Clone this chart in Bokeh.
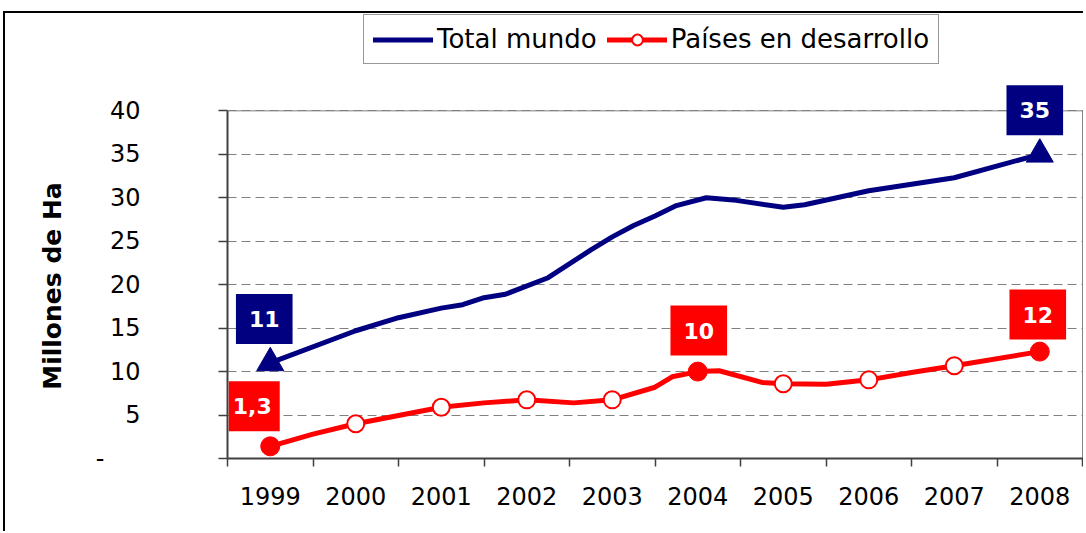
from bokeh.plotting import figure
from bokeh.models import FixedTicker, Legend, LegendItem, Label, Range1d, Span
from bokeh.embed import file_html
from bokeh.resources import INLINE

# ---------------- data ----------------
years = [1999, 2000, 2001, 2002, 2003, 2004, 2005, 2006, 2007, 2008]
year_labels = [str(y) for y in years]

# Total mundo (line, fractional years)
total_x = [1999.0, 2000.0, 2000.5, 2001.0, 2001.25, 2001.5, 2001.75, 2002.25, 2002.75,
           2003.0, 2003.25, 2003.5, 2003.75, 2004.1, 2004.45, 2005.0, 2005.25, 2006.0,
           2007.0, 2008.0]
total_y = [11.0, 14.7, 16.2, 17.3, 17.7, 18.5, 18.9, 20.8, 24.0,
           25.5, 26.8, 27.9, 29.1, 30.0, 29.7, 28.9, 29.2, 30.8,
           32.3, 35.0]
total_marked_years = [1999, 2008]
total_marked_vals = [11.0, 35.0]

# Paises en desarrollo
dev_x = [1999.0, 1999.5, 2000.0, 2001.0, 2001.5, 2002.0, 2002.55, 2003.0, 2003.5, 2003.7,
         2004.0, 2004.25, 2004.75, 2005.0, 2005.5, 2006.0, 2006.5, 2007.0, 2008.0]
dev_y = [1.4, 2.8, 4.0, 5.9, 6.4, 6.75, 6.4, 6.75, 8.2, 9.4,
         10.0, 10.1, 8.75, 8.6, 8.55, 9.05, 9.9, 10.67, 12.3]
dev_annual = [1.4, 4.0, 5.9, 6.75, 6.75, 10.0, 8.6, 9.05, 10.67, 12.3]
dev_highlight_years = [1999, 2004, 2008]

y_ticks = [0, 5, 10, 15, 20, 25, 30, 35, 40]
y_max = 40

# callouts: text, year, value, colour
callout_text = ["11", "35", "1,3", "10", "12"]
callout_year = [1999, 2008, 1999, 2004, 2008]
callout_val = [11.0, 35.0, 1.4, 10.0, 12.3]
callout_color = ["#000080", "#000080", "#FF0000", "#FF0000", "#FF0000"]
callout_offset = [(-6, 44), (-5, 44), (-16, 40), (1, 41), (-2, 37)]
callout_pad = [(13, 13), (13, 13), (4, 8), (13, 13), (13, 13)]

NAVY = "#000080"
RED = "#FF0000"
FONT = "DejaVu Sans"
AXIS = "#404040"

open_years = [y for y in years if y not in dev_highlight_years]
open_vals = [v for y, v in zip(years, dev_annual) if y not in dev_highlight_years]
fill_vals = [v for y, v in zip(years, dev_annual) if y in dev_highlight_years]

x_lo, x_hi = years[0] - 0.5, years[-1] + 0.5

p = figure(width=1080, height=520,
           x_range=Range1d(x_lo, x_hi + 0.023), y_range=Range1d(0, 51.2),
           output_backend="svg", toolbar_location=None,
           min_border_left=222, min_border_right=1, min_border_top=0, min_border_bottom=75,
           styles={"margin-left": "3px", "margin-top": "11px",
                   "border-left": "2px solid black", "border-top": "2px solid black"})
p.background_fill_color = "white"
p.border_fill_color = "white"
p.outline_line_color = None

# grid
p.xgrid.visible = False
p.ygrid.grid_line_color = "#808080"
p.ygrid.grid_line_dash = "9 5"
p.ygrid.grid_line_width = 1

# plot-area border (top and right)
p.add_layout(Span(location=y_max, dimension="width", line_color="#808080", line_width=1))
p.segment(x0=[x_hi], y0=[0], x1=[x_hi], y1=[y_max], line_color="#808080", line_width=1)

# x axis
p.xaxis.ticker = FixedTicker(ticks=years, minor_ticks=[y - 0.5 for y in years] + [x_hi])
p.xaxis.major_label_overrides = {y: s for y, s in zip(years, year_labels)}
p.xaxis.major_tick_out = 0
p.xaxis.major_tick_in = 0
p.xaxis.minor_tick_out = 8
p.xaxis.minor_tick_in = 0
p.xaxis.minor_tick_line_color = AXIS
p.xaxis.minor_tick_line_width = 1.5
p.xaxis.axis_line_color = AXIS
p.xaxis.axis_line_width = 2
p.xaxis.major_label_standoff = 20
p.xaxis.major_label_text_font = FONT
p.xaxis.major_label_text_font_size = "24px"
p.xaxis.major_label_text_color = "black"

# y axis
p.yaxis.bounds = (0, y_max)
p.yaxis.ticker = FixedTicker(ticks=y_ticks, minor_ticks=[])
p.yaxis.major_label_overrides = {0: "-\u2003\u2002"}
p.yaxis.major_tick_out = 9
p.yaxis.major_tick_in = 0
p.yaxis.major_tick_line_color = AXIS
p.yaxis.major_tick_line_width = 1.5
p.yaxis.axis_line_color = AXIS
p.yaxis.axis_line_width = 2
p.yaxis.major_label_standoff = 78
p.yaxis.major_label_text_font = FONT
p.yaxis.major_label_text_font_size = "24px"
p.yaxis.major_label_text_color = "black"
# trailing em spaces keep the title centred on the 0-40 part of the axis
p.yaxis.axis_label = "Millones de Ha" + "\u2003" * 4
p.yaxis.axis_label_text_font = FONT
p.yaxis.axis_label_text_font_size = "25px"
p.yaxis.axis_label_text_font_style = "bold"
p.yaxis.axis_label_text_color = "black"
p.yaxis.axis_label_standoff = 26

# series
blue_line = p.line(total_x, total_y, line_width=5, line_color=NAVY, line_join="round", line_cap="round")
p.scatter(total_marked_years, total_marked_vals, marker="triangle", size=27,
          fill_color=NAVY, line_color=NAVY)
red_line = p.line(dev_x, dev_y, line_width=5, line_color=RED, line_join="round", line_cap="round")
open_pts = p.scatter(open_years, open_vals, marker="circle", size=17,
                     fill_color="white", line_color=RED, line_width=2)
p.scatter(dev_highlight_years, fill_vals, marker="circle", size=19,
          fill_color=RED, line_color=RED)

# callouts
for t, x, v, c, (dx, dy), (pl, pr) in zip(callout_text, callout_year, callout_val,
                                           callout_color, callout_offset, callout_pad):
    p.add_layout(Label(x=x, y=v, x_offset=dx, y_offset=dy, text=t,
                       text_color="white", text_font=FONT, text_font_style="bold",
                       text_font_size="22px", text_align="center", text_baseline="middle",
                       background_fill_color=c, background_fill_alpha=1.0,
                       padding=dict(left=pl, right=pr, top=17, bottom=17)))

legend = Legend(items=[LegendItem(label="Total mundo", renderers=[blue_line]),
                       LegendItem(label="Países en desarrollo", renderers=[red_line, open_pts])],
                orientation="horizontal", location=(136, 394), margin=0, padding=9,
                spacing=10, glyph_width=60, glyph_height=27, label_height=27,
                label_standoff=4, label_text_font=FONT, label_text_font_size="26px",
                label_text_color="black",
                border_line_color="#333333", border_line_width=1,
                background_fill_color="white", background_fill_alpha=1.0)
p.add_layout(legend, "center")

open("out.html", "w").write(file_html(p, INLINE))
